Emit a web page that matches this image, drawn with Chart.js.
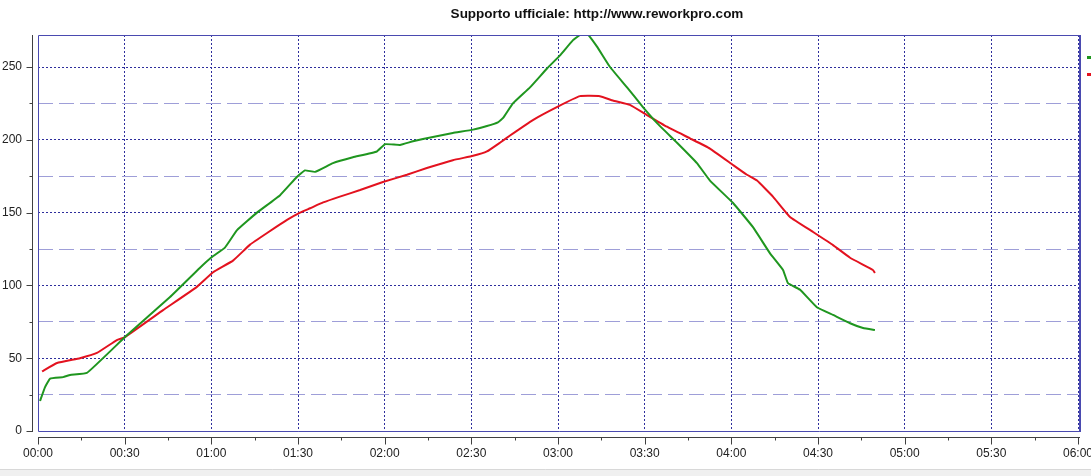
<!DOCTYPE html>
<html>
<head>
<meta charset="utf-8">
<script src="https://cdn.jsdelivr.net/npm/chart.js@4/dist/chart.umd.min.js"></script>
<style>
  html, body { margin:0; padding:0; background:#fff; }
  #wrap { width:1091px; height:476px; }
</style>
</head>
<body>
<div id="wrap"><canvas id="chart" width="1091" height="476"></canvas></div>
<script>
// data (time in minutes from 00:00)
const titleText = 'Supporto ufficiale: http://www.reworkpro.com';

const greenTimes = [0.7, 2.4, 4.2, 8.7, 11.1, 17, 30.1, 45.7, 56, 60.2, 64.7, 68.9, 75.8, 83.8, 89.6, 92.4, 95.9,
  102.1, 109, 117.3, 120.1, 125.3, 129.8, 136.7, 143.6, 150.6, 155.4, 159.2, 161, 164.4, 170.3, 176.2, 180.7,
  185.2, 188.3, 190, 193.5, 198, 203.9, 209.4, 214.3, 221.2, 228.1, 232.6, 240.6, 247.5, 253.4, 257.9, 259.6,
  263.8, 269.6, 275.2, 281.1, 285.6, 289.7];
const greenValues = [20.6, 30, 36, 37, 38.5, 40, 64.5, 92, 112, 119.5, 126, 138, 150, 162, 174.5, 179, 178,
  184, 188, 192, 197, 196.5, 199, 202, 204.7, 207, 209.5, 212, 215, 225, 236, 249, 258,
  268.5, 273, 273, 264, 250, 236, 222.5, 211.5, 198, 184, 172, 156.6, 140, 122, 110.6, 101.6,
  97, 85, 79.7, 74, 70.7, 69.4];

const redTimes = [1.4, 6.6, 14.5, 20.4, 27.3, 30.1, 43.3, 55, 60.6, 67.5, 73.4, 79.3, 86.2, 90.7, 94.2, 98.7,
  104.5, 111.5, 119.4, 127.7, 134.6, 143.6, 150.6, 155.4, 159.9, 163.4, 171.3, 179.6, 187.6, 194.5, 199,
  204.9, 210.8, 217.7, 225.7, 232.6, 240.6, 245.4, 248.9, 254.4, 260.3, 268.3, 275.2, 281.1, 289, 289.7];
const redValues = [41, 46.7, 50, 53.6, 62.5, 64.5, 83, 99, 109, 117, 128, 136, 145, 150, 153, 157,
  161, 165.5, 171, 176, 180.6, 186, 189, 192, 198, 203, 213.6, 222.5, 230, 230, 227,
  224, 217, 209, 201, 194, 182.7, 176, 172, 161, 147, 136.7, 127.7, 119, 110.6, 108.5];

const xMin = 0, xMax = 360, xStep = 15;
const yMin = 0, yMax = 272, yStep = 25;

const gridDark = '#2e2e9c';
const gridLight = '#9e9ed8';
const frameColor = '#4a4ab0';
const axisColor = '#404040';
const font = { family: '"Liberation Sans", Arial, sans-serif', size: 12 };

function hhmm(m){
  const h = Math.floor(m / 60), mm = Math.round(m % 60);
  return String(h).padStart(2,'0') + ':' + String(mm).padStart(2,'0');
}
function toPoints(ts, vs){ return ts.map((t,i)=>({x:t, y:vs[i]})); }

// frame, offset axes, title, legend stubs
const decor = {
  id:'decor',
  beforeDraw(chart){
    const c = chart.ctx;
    c.save();
    c.fillStyle = '#fff';
    c.fillRect(0,0,chart.width,chart.height);
    c.fillStyle = '#f0f0f0';
    c.fillRect(0,469,chart.width,chart.height-469);
    c.strokeStyle = '#d8d8d8';
    c.beginPath(); c.moveTo(0,469.5); c.lineTo(chart.width,469.5); c.stroke();
    c.restore();
  },
  afterDraw(chart){
    const c = chart.ctx, a = chart.chartArea;
    const xs = chart.scales.x, ys = chart.scales.y;
    const right = a.right + 2;
    c.save();
    // plot frame
    c.strokeStyle = frameColor; c.lineWidth = 1;
    c.beginPath();
    c.moveTo(right, a.top+0.5); c.lineTo(a.left+0.5, a.top+0.5);
    c.lineTo(a.left+0.5, a.bottom+0.5); c.lineTo(right, a.bottom+0.5);
    c.stroke();
    c.lineWidth = 2;
    c.beginPath(); c.moveTo(right, a.top); c.lineTo(right, a.bottom+1); c.stroke();

    // y axis line, offset left
    c.strokeStyle = axisColor; c.lineWidth = 1;
    const yx = a.left - 5.5;
    c.beginPath(); c.moveTo(yx, a.top); c.lineTo(yx, a.bottom+1); c.stroke();
    ys.ticks.forEach(t=>{
      const py = Math.round(ys.getPixelForValue(t.value)) + 0.5;
      const len = t.value % 50 === 0 ? 6 : 3;
      c.beginPath(); c.moveTo(yx, py); c.lineTo(yx-len, py); c.stroke();
    });

    // x axis line, offset below
    const xy = a.bottom + 6.5;
    c.beginPath(); c.moveTo(a.left, xy); c.lineTo(right, xy); c.stroke();
    xs.ticks.forEach(t=>{
      const px = Math.round(xs.getPixelForValue(t.value)) + 0.5;
      const len = t.value % 30 === 0 ? 7 : 3;
      c.beginPath(); c.moveTo(px, xy); c.lineTo(px, xy+len); c.stroke();
    });

    // title
    c.fillStyle = '#111';
    c.font = 'bold 13.5px "Liberation Sans", Arial, sans-serif';
    c.textAlign = 'center'; c.textBaseline = 'middle';
    c.fillText(titleText, 597, 14);

    // legend stubs cut off at the right edge
    chart.data.datasets.forEach((d,i)=>{
      c.fillStyle = d.borderColor;
      c.fillRect(1087, 56 + i*17, 5, 3);
    });
    c.restore();
  }
};

new Chart(document.getElementById('chart'), {
  type:'line',
  data:{
    datasets:[
      { label:'A', data: toPoints(greenTimes, greenValues), borderColor:'#1f961f', borderWidth:2, pointRadius:0, tension:0.1, fill:false },
      { label:'B', data: toPoints(redTimes, redValues), borderColor:'#e3121f', borderWidth:2, pointRadius:0, tension:0.1, fill:false }
    ]
  },
  options:{
    responsive:false, animation:false,
    layout:{ padding:{ top:35, right:13, left:0, bottom:0 } },
    plugins:{ legend:{display:false}, tooltip:{enabled:false} },
    scales:{
      x:{
        type:'linear', min:xMin, max:xMax,
        afterBuildTicks: s => { s.ticks = s.ticks.filter(t => t.value % xStep === 0); },
        afterFit: s => { s.height = 45; s.paddingLeft = 0; s.paddingRight = 0; },
        ticks:{ stepSize:xStep, autoSkip:false, maxRotation:0, padding:15, color:'#222', font,
          callback: v => v % 30 === 0 ? hhmm(v) : '' },
        grid:{ drawTicks:false,
          color: ctx => (ctx.tick && ctx.tick.value % 30 === 0 && ctx.tick.value > 0) ? gridDark : 'rgba(0,0,0,0)',
          lineWidth:1 },
        border:{ display:false, dash:[2,2] }
      },
      y:{
        min:yMin, max:yMax,
        afterBuildTicks: s => { s.ticks = s.ticks.filter(t => t.value % yStep === 0); },
        afterFit: s => { s.width = 38; s.paddingTop = 0; s.paddingBottom = 0; },
        ticks:{ stepSize:yStep, padding:16, color:'#222', font,
          callback: v => v % 50 === 0 ? String(v) : '' },
        grid:{ drawTicks:false,
          color: ctx => {
            if (!ctx.tick || ctx.tick.value === 0) return 'rgba(0,0,0,0)';
            return ctx.tick.value % 50 === 0 ? gridDark : gridLight;
          },
          lineWidth:1 },
        border:{ display:false,
          dash: ctx => (ctx.tick && ctx.tick.value % 50 === 0) ? [2,2] : [15,6] }
      }
    }
  },
  plugins:[decor]
});
</script>
</body>
</html>
